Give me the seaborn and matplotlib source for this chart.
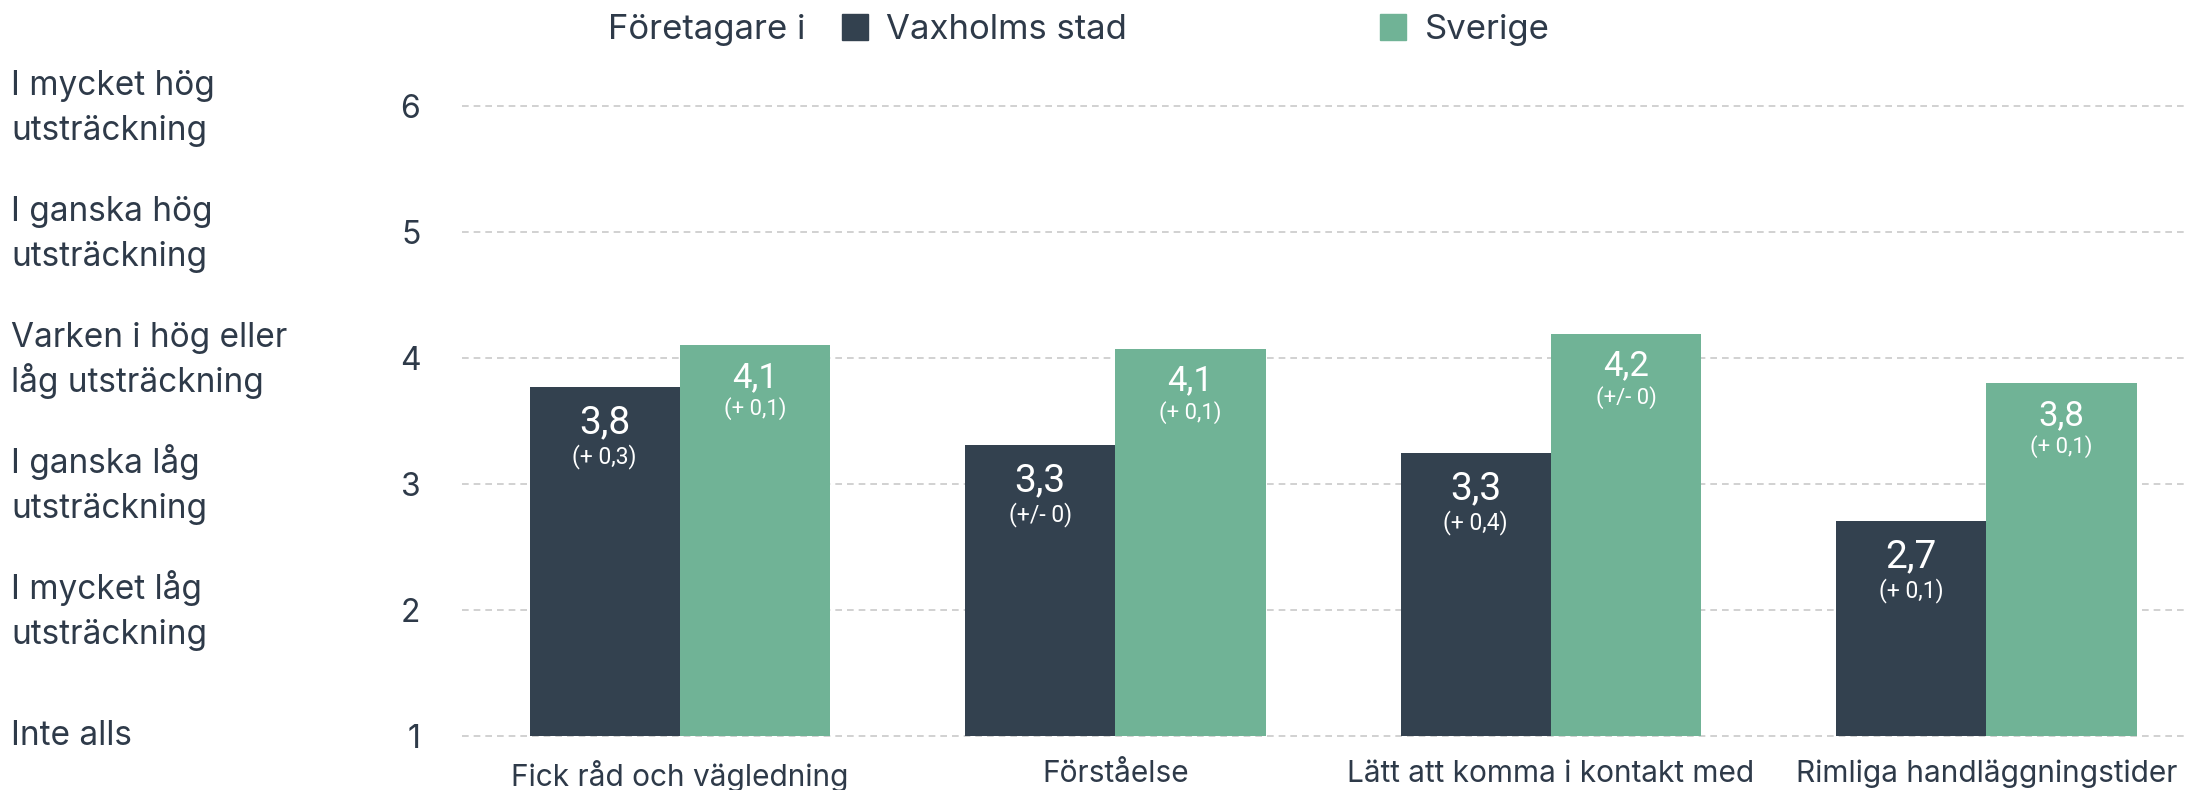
import numpy as np
import pandas as pd
import matplotlib
matplotlib.use("Agg")
import matplotlib.pyplot as plt
import matplotlib.transforms as mtransforms
from matplotlib.lines import Line2D
import seaborn as sns

# ---------------- data ----------------
categories = ["Fick råd och vägledning", "Förståelse",
              "Lätt att komma i kontakt med", "Rimliga handläggningstider"]
series_names = ["Vaxholms stad", "Sverige"]
vaxholm_values = [3.77, 3.31, 3.25, 2.71]
sverige_values = [4.10, 4.07, 4.19, 3.80]
vaxholm_labels = ["3,8", "3,3", "3,3", "2,7"]
sverige_labels = ["4,1", "4,1", "4,2", "3,8"]
vaxholm_change = ["(+ 0,3)", "(+/- 0)", "(+ 0,4)", "(+ 0,1)"]
sverige_change = ["(+ 0,1)", "(+ 0,1)", "(+/- 0)", "(+ 0,1)"]
y_ticks = [1, 2, 3, 4, 5, 6]
scale_labels = ["Inte alls",
                "I mycket låg\nutsträckning",
                "I ganska låg\nutsträckning",
                "Varken i hög eller\nlåg utsträckning",
                "I ganska hög\nutsträckning",
                "I mycket hög\nutsträckning"]
legend_title = "Företagare i"

# ---------------- style ----------------
DARK = "#33414f"
GREEN = "#70b396"
TEXT = "#2e3a49"
GRID = "#c9c9c9"

sns.set_theme(style="white")
plt.rcParams["font.family"] = ["Inter", "DejaVu Sans"]
plt.rcParams["text.color"] = TEXT
plt.rcParams["axes.labelcolor"] = TEXT
plt.rcParams["xtick.color"] = TEXT
plt.rcParams["ytick.color"] = TEXT

W, H = 2185, 790
fig = plt.figure(figsize=(W / 100, H / 100), dpi=100)

# axes geometry (pixels)
ax_left, ax_right = 462, 2185
ax_top, ax_bottom = 106, 736
ax = fig.add_axes([ax_left / W, 1 - ax_bottom / H,
                   (ax_right - ax_left) / W, (ax_bottom - ax_top) / H])

df = pd.DataFrame({
    "category": categories * 2,
    "series": [series_names[0]] * len(categories) + [series_names[1]] * len(categories),
    "value": vaxholm_values + sverige_values,
})

sns.barplot(data=df, x="category", y="value", hue="series", order=categories,
            hue_order=series_names, palette=[DARK, GREEN], width=0.69,
            linewidth=0, saturation=1, ax=ax, legend=False, zorder=2)

ax.set_ylim(1, 6)
ax.set_xlim(-0.5, 3.456)
ax.set_yticks(y_ticks)
ax.set_yticklabels([str(t) for t in y_ticks], fontsize=23)
ax.tick_params(axis="y", length=0, pad=30)
ax.tick_params(axis="x", length=0, pad=17, labelsize=21.5)
ax.set_xlabel("")
ax.set_ylabel("")
for s in ax.spines.values():
    s.set_visible(False)
ax.yaxis.grid(True, color=GRID, linestyle=(0, (4, 3)), linewidth=1.2, zorder=0)
ax.set_axisbelow(True)
for gl in ax.get_ygridlines():
    gl.set_clip_on(False)

# bar labels
containers = ax.containers
label_sets = [(vaxholm_labels, vaxholm_change, 28, 16.5, 36, 70),
              (sverige_labels, sverige_change, 25, 15.8, 32, 63)]
for cont, (vals, chg, fs1, fs2, off1, off2) in zip(containers, label_sets):
    for bar, v, c in zip(cont.patches, vals, chg):
        xc = bar.get_x() + bar.get_width() / 2
        top = bar.get_height()
        ax.annotate(v, (xc, top), xytext=(0, -off1 * 0.72), textcoords="offset points",
                    ha="center", va="center", color="white", fontsize=fs1,
                    family=["Roboto", "DejaVu Sans"])
        ax.annotate(c, (xc, top), xytext=(0, -off2 * 0.72), textcoords="offset points",
                    ha="center", va="center", color="white", fontsize=fs2,
                    family=["Roboto", "DejaVu Sans"])

# left scale labels: each line placed separately for an even line pitch
trans = mtransforms.blended_transform_factory(fig.transFigure, ax.transData)
line_pitch = 32.4   # points
for t, lab in zip(y_ticks, scale_labels):
    lines = lab.split("\n")
    n = len(lines)
    for i, line in enumerate(lines):
        center_off = -(i - (n - 1) / 2) * line_pitch - (1.5 if n > 1 else 0)
        ax.annotate(line, (11 / W, t), xycoords=trans, xytext=(0, center_off - 6.5),
                    textcoords="offset points", ha="left", va="baseline",
                    fontsize=24, color=TEXT, annotation_clip=False)

# legend
fig.text(608 / W, 1 - 30 / H, legend_title, ha="left", va="center", fontsize=25, color=TEXT)
handles = [Line2D([], [], marker="s", linestyle="none", markersize=19,
                  markerfacecolor=DARK, markeredgecolor=DARK),
           Line2D([], [], marker="s", linestyle="none", markersize=19,
                  markerfacecolor=GREEN, markeredgecolor=GREEN)]
fig.legend(handles, series_names, ncol=2, loc="center left",
           bbox_to_anchor=(842 / W, 1 - 30 / H), frameon=False,
           fontsize=25, handlelength=0.75, handletextpad=0.52,
           columnspacing=7.3, borderpad=0, borderaxespad=0)

fig.savefig("out.png", dpi=100)
